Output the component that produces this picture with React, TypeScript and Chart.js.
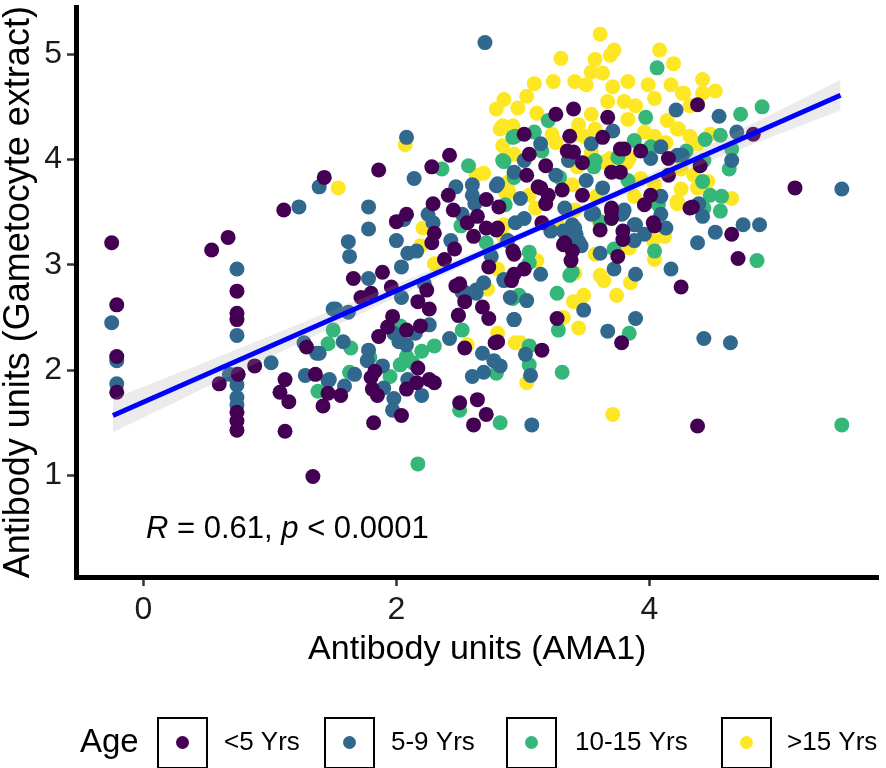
import { useEffect, useRef } from 'react'
import { Chart, registerables } from 'chart.js'

Chart.register(...registerables)

const FONT = '"Liberation Sans", Arial, sans-serif'

const ageGroups = ['<5 Yrs', '5-9 Yrs', '10-15 Yrs', '>15 Yrs']
const groupColors = ['#440154', '#31688E', '#35B779', '#FDE725']

// [AMA1, Gametocyte extract] per age group
const under5: [number, number][] = [
  [-0.25, 3.21], [-0.21, 2.62], [-0.21, 2.13], [-0.21, 1.79],
  [0.67, 3.26], [0.54, 3.14], [1.11, 3.52],
  [0.74, 2.75], [0.74, 2.54], [0.74, 2.48], [0.74, 1.6], [0.74, 1.52], [0.74, 1.43],
  [0.6, 1.87], [0.75, 1.96], [0.88, 2.04], [1.12, 1.91], [1.08, 1.79], [1.15, 1.7], [1.12, 1.42],
  [1.34, 0.99], [1.36, 1.96], [1.46, 1.78], [1.42, 1.66], [1.29, 2.22],
  [2.42, 4.04], [2.28, 3.93], [1.86, 3.9], [1.43, 3.83], [2.0, 3.41], [2.08, 3.48], [1.89, 2.93],
  [1.66, 2.87], [1.72, 2.69], [1.8, 2.73], [1.96, 2.79], [2.41, 3.66], [2.29, 3.58], [2.3, 3.3],
  [2.28, 3.21], [2.46, 3.15], [2.38, 3.05], [2.45, 3.52], [2.71, 3.62], [2.64, 3.46], [2.56, 3.4],
  [2.61, 3.27], [2.71, 3.35], [2.79, 3.33], [2.81, 3.55], [2.92, 3.13], [2.73, 2.98], [2.93, 2.91],
  [2.5, 2.82], [2.17, 2.65], [2.26, 2.58], [2.24, 2.76], [1.97, 2.51], [1.93, 2.41], [1.86, 2.32],
  [2.08, 2.38], [2.19, 2.42], [1.83, 1.99], [1.8, 1.93], [1.81, 1.82], [1.85, 1.76], [2.17, 2.02],
  [2.08, 1.82], [2.16, 1.88], [2.26, 1.91], [2.3, 1.88], [2.04, 1.57], [1.82, 1.5], [1.56, 1.76],
  [2.49, 2.52], [2.54, 2.65], [2.47, 2.8], [2.54, 2.21], [2.68, 2.6], [2.73, 2.49], [2.78, 2.26],
  [2.5, 1.69], [2.64, 1.72], [2.71, 1.58], [2.61, 1.48],
  [3.26, 4.43], [3.4, 4.48], [3.67, 4.4], [3.37, 4.22], [3.63, 4.21], [3.01, 4.24], [3.05, 4.05],
  [3.35, 4.08], [3.4, 4.07], [3.8, 4.1], [3.93, 4.08], [3.18, 3.94], [3.47, 3.97], [4.15, 4.01],
  [3.03, 3.85], [3.12, 3.74], [3.2, 3.66], [3.7, 3.88], [3.77, 3.88], [3.31, 3.71], [3.47, 3.66],
  [4.15, 3.85], [3.18, 3.58], [3.7, 3.54], [3.96, 3.57], [4.01, 3.66], [4.34, 3.55],
  [2.8, 3.35], [2.93, 3.1], [3.01, 2.96], [2.91, 2.85], [3.15, 3.4], [3.32, 3.19], [3.39, 3.13],
  [3.38, 3.04], [3.61, 3.33], [3.7, 3.44], [3.79, 3.32], [3.79, 3.24], [3.75, 3.08], [4.04, 3.37],
  [4.32, 3.54], [4.25, 2.79], [3.27, 2.49], [3.78, 2.26], [3.15, 2.19], [2.8, 2.27],
  [4.38, 4.52], [4.82, 4.24], [4.4, 3.94], [4.65, 3.29], [4.7, 3.06], [5.15, 3.73], [4.38, 1.47],
  [3.14, 3.73], [3.7, 3.51], [4.03, 3.4], [3.33, 3.21], [3.77, 4.1],
]

const age5to9: [number, number][] = [
  [-0.25, 2.45], [-0.21, 2.09], [-0.21, 1.87], [1.23, 3.55],
  [0.74, 2.96], [0.74, 2.33], [0.74, 1.96], [0.74, 1.86], [0.74, 1.74], [0.74, 1.67],
  [0.68, 1.96], [1.01, 2.07], [1.28, 1.95], [1.46, 1.9], [1.27, 2.26], [1.37, 2.16], [1.5, 2.58],
  [2.08, 4.21], [1.39, 3.74], [2.14, 3.82], [1.78, 3.55], [1.78, 3.34], [1.62, 3.22], [1.63, 3.08],
  [2.06, 3.43], [2.0, 3.23], [2.09, 3.11], [2.04, 2.98], [1.78, 2.87], [2.04, 2.69], [2.25, 3.48],
  [2.29, 3.4], [2.16, 3.13], [2.43, 3.23], [2.52, 3.48], [2.47, 3.74], [2.6, 3.76], [2.6, 3.66],
  [2.62, 3.58], [2.79, 3.75], [2.93, 3.88], [2.88, 3.23], [2.75, 3.08], [2.85, 2.85], [2.54, 2.74],
  [2.63, 2.76], [2.69, 2.83], [2.22, 2.82], [2.7, 5.11],
  [1.52, 2.58], [1.62, 2.55], [1.58, 2.27], [1.39, 2.16], [1.98, 2.35], [2.02, 2.27], [2.15, 2.35],
  [2.26, 2.43], [2.08, 2.24], [1.78, 2.19], [1.77, 2.09], [1.89, 2.04], [1.9, 1.83], [2.09, 1.91],
  [2.2, 1.76], [1.98, 1.73], [1.97, 1.62], [1.67, 1.96], [1.47, 1.91], [1.59, 1.85], [2.42, 2.3],
  [2.49, 2.52], [2.52, 2.74], [2.63, 2.73], [2.93, 2.48], [2.68, 2.16], [2.77, 2.09], [2.82, 2.04],
  [2.6, 1.94], [2.69, 1.98],
  [4.21, 4.47], [3.71, 4.27], [3.54, 4.15], [4.09, 4.12], [4.22, 4.04], [3.01, 3.99], [3.14, 4.15],
  [3.36, 3.99], [2.8, 3.77], [3.5, 3.8], [3.63, 3.73], [2.98, 3.63], [3.33, 3.54], [3.8, 3.52],
  [4.09, 3.65],
  [2.94, 3.4], [3.01, 3.44], [3.14, 2.91], [2.85, 2.86], [3.22, 3.32], [3.39, 3.38], [3.42, 3.29],
  [3.46, 3.18], [3.32, 3.32], [3.61, 3.11], [3.54, 3.48], [3.78, 3.48], [3.72, 2.96], [3.89, 3.38],
  [3.96, 3.29], [4.09, 3.48], [4.13, 3.35], [4.17, 2.96], [3.89, 2.91], [3.48, 2.57], [2.9, 2.69],
  [3.03, 2.66], [2.93, 2.48], [3.89, 2.49], [3.67, 2.37], [3.02, 2.15], [3.06, 1.95], [3.07, 1.48],
  [4.55, 4.41], [4.69, 4.26], [4.65, 3.99], [4.26, 4.04], [4.39, 3.58], [4.42, 3.46], [4.74, 3.38],
  [4.87, 3.38], [4.52, 3.31], [4.38, 3.21], [5.52, 3.72], [4.43, 2.3], [4.64, 2.26],
  [3.26, 3.85], [3.56, 3.49], [3.79, 3.49], [3.88, 3.38], [3.41, 3.35], [3.44, 3.22], [3.88, 3.23],
  [4.01, 4.01],
]

const age10to15: [number, number][] = [
  [1.46, 2.25], [1.5, 2.38], [1.38, 1.8],
  [2.36, 3.91], [2.57, 3.94], [2.51, 3.37], [2.71, 3.21], [2.85, 3.98], [2.92, 4.21], [2.86, 3.57],
  [2.92, 2.68],
  [1.64, 2.21], [2.03, 2.42], [2.2, 2.18], [2.3, 2.23], [2.08, 2.13], [2.03, 2.05], [2.13, 2.07],
  [1.79, 2.12], [1.95, 1.94], [2.17, 1.11], [1.63, 1.98], [2.52, 2.38], [2.79, 1.97], [2.5, 1.62],
  [2.82, 1.5],
  [4.06, 4.87], [3.2, 4.37], [3.97, 4.4], [3.09, 4.26], [2.94, 4.22], [3.88, 4.18], [3.15, 4.08],
  [4.01, 4.12], [4.29, 4.08], [2.84, 3.99], [3.56, 3.93], [2.93, 3.83], [3.29, 3.83], [3.83, 3.8],
  [4.07, 3.57],
  [3.05, 3.12], [3.05, 3.02], [3.61, 3.41], [3.72, 3.15], [4.04, 3.13], [3.37, 2.9], [3.27, 2.73],
  [2.97, 2.71], [3.28, 2.38], [3.84, 2.35], [3.05, 2.23], [3.05, 2.05], [3.31, 1.98],
  [4.72, 4.43], [4.89, 4.5], [4.44, 4.19], [4.56, 4.23], [4.65, 4.1], [4.63, 3.91], [4.43, 3.99],
  [4.42, 3.79], [4.48, 3.66], [4.57, 3.65], [4.56, 3.51], [4.43, 3.54], [4.85, 3.04], [5.52, 1.48],
  [3.39, 2.93], [3.75, 4.02], [3.57, 3.99],
]

const over15: [number, number][] = [
  [1.54, 3.73], [2.07, 4.14],
  [2.21, 3.35], [2.19, 3.18], [2.3, 3.01], [2.69, 3.87], [2.63, 3.85], [2.79, 4.48], [2.82, 4.29],
  [2.92, 4.3], [2.88, 4.04], [2.89, 3.79], [2.86, 3.69], [2.85, 3.38], [2.8, 2.96],
  [2.56, 2.24], [2.72, 2.77], [2.8, 2.35], [2.94, 2.26],
  [3.61, 5.19], [3.3, 4.96], [3.72, 5.04], [3.69, 4.99], [3.57, 4.95], [4.08, 5.04], [4.19, 4.91],
  [3.54, 4.83], [3.63, 4.82], [3.24, 4.74], [3.09, 4.72], [3.41, 4.74], [3.5, 4.71], [3.83, 4.74],
  [3.71, 4.69], [3.99, 4.71], [4.17, 4.71], [4.26, 4.63], [2.85, 4.57], [3.03, 4.6], [2.96, 4.49],
  [3.67, 4.55], [3.8, 4.55], [3.89, 4.51], [4.04, 4.58], [4.32, 4.51], [3.11, 4.44], [3.54, 4.43],
  [2.84, 4.32], [2.92, 4.32], [3.44, 4.33], [3.83, 4.38], [4.14, 4.37], [4.23, 4.29], [3.41, 4.24],
  [3.23, 4.24], [4.04, 4.22], [4.32, 4.22], [3.65, 3.97], [3.82, 3.97], [4.22, 3.58], [4.25, 3.72],
  [4.04, 3.76],
  [2.84, 4.13], [2.93, 4.05], [3.26, 4.16], [3.48, 4.22], [3.57, 4.29], [3.96, 4.26], [4.13, 4.16],
  [3.69, 4.01], [3.43, 3.93], [3.39, 3.76], [3.93, 3.82], [3.58, 3.65], [3.88, 3.65], [3.05, 3.66],
  [2.89, 3.69], [3.1, 3.54], [3.41, 3.52], [4.25, 3.91],
  [2.85, 3.26], [3.11, 3.04], [3.28, 3.37], [3.57, 3.1], [3.84, 3.16], [4.12, 3.27], [4.04, 3.05],
  [4.22, 3.6], [3.85, 2.83], [3.41, 2.92], [3.61, 2.9], [3.64, 2.85], [3.48, 2.71], [3.4, 2.65],
  [3.74, 2.71], [3.32, 2.5], [3.44, 2.4], [2.98, 2.26], [3.03, 1.88], [3.71, 1.58],
  [4.42, 4.76], [4.52, 4.65], [4.27, 4.63], [4.42, 4.63], [4.22, 4.29], [4.48, 4.24], [4.38, 4.15],
  [4.35, 3.85], [4.46, 3.79], [4.38, 3.73], [4.65, 3.63],
  [3.6, 3.42], [4.03, 3.23], [3.78, 3.19], [3.84, 4.01], [3.54, 4.07], [3.65, 3.98],
]

const groupPoints = [under5, age5to9, age10to15, over15]

const xTicks = [0, 2, 4]
const yTicks = [1, 2, 3, 4, 5]

// linear fit and its confidence band
const fitX = [-0.24, 5.51]
const fitY = [1.57, 4.61]
const bandX = [-0.24, 0.5, 1.5, 2.5, 3.2, 4, 5, 5.51]
const bandLow = [1.41, 1.84, 2.41, 2.975, 3.355, 3.76, 4.23, 4.465]
const bandHigh = [1.73, 2.08, 2.57, 3.065, 3.425, 3.86, 4.45, 4.755]

const overlayPlugin = {
  id: 'overlay',
  afterDraw(chart: Chart) {
    const ctx = chart.ctx
    ctx.save()
    ctx.fillStyle = '#000'
    ctx.textBaseline = 'alphabetic'
    // correlation label
    const parts: [string, boolean][] = [['R', true], [' = 0.61, ', false], ['p', true], [' < 0.0001', false]]
    let x = 146
    for (const [t, it] of parts) {
      ctx.font = `${it ? 'italic ' : ''}31px ${FONT}`
      ctx.fillText(t, x, 538)
      x += ctx.measureText(t).width
    }
    // legend
    ctx.textBaseline = 'middle'
    ctx.font = `33px ${FONT}`
    ctx.fillText('Age', 80, 743)
    const boxX = [158, 325, 507, 722]
    const labelX = [224, 391, 575, 787]
    ctx.font = `26px ${FONT}`
    ageGroups.forEach((g, i) => {
      ctx.strokeStyle = '#000'
      ctx.lineWidth = 2
      ctx.strokeRect(boxX[i], 718, 49, 50)
      ctx.fillStyle = groupColors[i]
      ctx.beginPath()
      ctx.arc(boxX[i] + 24.5, 742.5, 6.5, 0, Math.PI * 2)
      ctx.fill()
      ctx.fillStyle = '#000'
      ctx.fillText(g, labelX[i], 743)
    })
    ctx.restore()
  },
}

export default function App() {
  const canvasRef = useRef<HTMLCanvasElement>(null)
  const chartRef = useRef<Chart | null>(null)

  useEffect(() => {
    if (!canvasRef.current) return
    chartRef.current?.destroy()
    Chart.defaults.font.family = FONT

    const pointSets = groupPoints.map((pts, i) => ({
      type: 'scatter' as const,
      label: ageGroups[i],
      data: pts.map(([x, y]) => ({ x, y })),
      backgroundColor: groupColors[i],
      borderWidth: 0,
      pointRadius: 7.5,
      order: 0,
    }))

    chartRef.current = new Chart(canvasRef.current, {
      type: 'scatter',
      data: {
        datasets: [
          ...pointSets,
          {
            type: 'line',
            label: 'band low',
            data: bandX.map((x, i) => ({ x, y: bandLow[i] })),
            borderWidth: 0,
            pointRadius: 0,
            fill: false,
            order: -1,
          },
          {
            type: 'line',
            label: 'band high',
            data: bandX.map((x, i) => ({ x, y: bandHigh[i] })),
            borderWidth: 0,
            pointRadius: 0,
            tension: 0.4,
            fill: 4,
            backgroundColor: 'rgba(153,153,153,0.2)',
            order: -1,
          },
          {
            type: 'line',
            label: 'fit',
            data: fitX.map((x, i) => ({ x, y: fitY[i] })),
            borderColor: '#0000FF',
            borderWidth: 5,
            pointRadius: 0,
            fill: false,
            order: -2,
          },
        ],
      },
      options: {
        responsive: true,
        maintainAspectRatio: false,
        animation: false,
        layout: { padding: { left: 0, right: 0, top: 0, bottom: 98 } },
        plugins: {
          legend: { display: false },
          tooltip: { enabled: false },
        },
        scales: {
          x: {
            type: 'linear',
            min: -0.532,
            max: 5.81,
            afterBuildTicks: (s: any) => { s.ticks = xTicks.map(v => ({ value: v })) },
            afterFit: (s: any) => { s.height = 93; s.paddingLeft = 0; s.paddingRight = 0 },
            grid: { drawOnChartArea: false, drawTicks: true, tickLength: 9, tickWidth: 2.5, tickColor: '#333' },
            border: { display: true, width: 5, color: '#000' },
            ticks: { color: '#1a1a1a', font: { size: 32 }, padding: 5, maxRotation: 0 },
            title: { display: true, text: 'Antibody units (AMA1)', color: '#000', font: { size: 34 }, padding: 0 },
          },
          y: {
            type: 'linear',
            min: 0.036,
            max: 5.443,
            afterBuildTicks: (s: any) => { s.ticks = yTicks.map(v => ({ value: v })) },
            afterFit: (s: any) => { s.width = 76; s.paddingTop = 0; s.paddingBottom = 0 },
            grid: { drawOnChartArea: false, drawTicks: true, tickLength: 9, tickWidth: 2.5, tickColor: '#333' },
            border: { display: true, width: 5, color: '#000' },
            ticks: { color: '#1a1a1a', font: { size: 32 }, padding: 5 },
            title: {
              display: true,
              text: 'Antibody units (Gametocyte extract)',
              color: '#000',
              font: { size: 36 },
              padding: { top: -3, bottom: 0 },
            },
          },
        },
      },
      plugins: [overlayPlugin],
    })

    return () => chartRef.current?.destroy()
  }, [])

  return (
    <div style={{ position: 'fixed', left: 0, top: 0, width: 886, height: 768, background: '#fff' }}>
      <canvas ref={canvasRef} />
    </div>
  )
}
